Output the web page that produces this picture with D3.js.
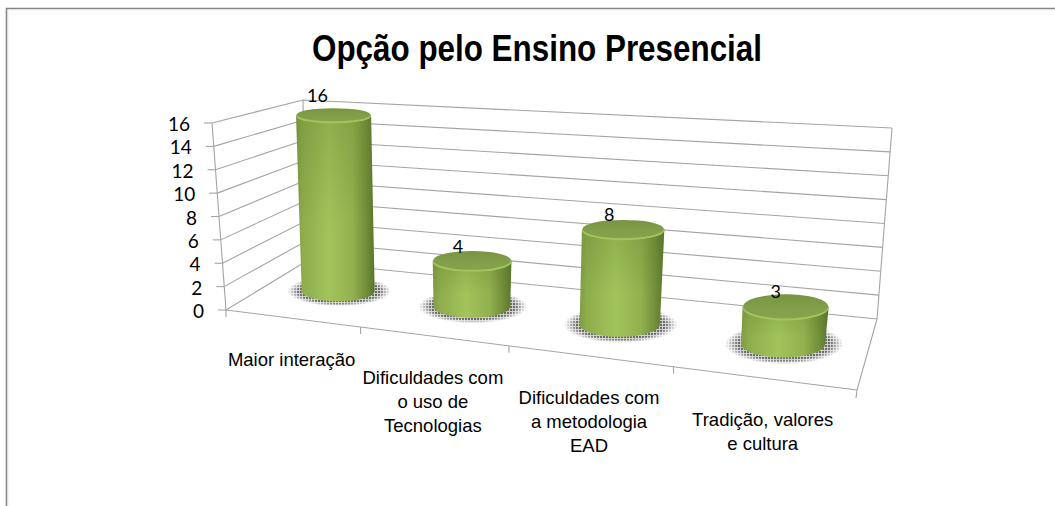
<!DOCTYPE html>
<html>
<head>
<meta charset="utf-8">
<script src="https://cdn.jsdelivr.net/npm/d3@7"></script>
<style>
  html, body { margin: 0; padding: 0; background: #fff; }
  text { font-family: "Liberation Sans", Arial, sans-serif; fill: #000; }
  .num { font-family: Lato, "Liberation Sans", sans-serif; }
</style>
</head>
<body>
<svg width="1055" height="506"></svg>
<script>
// Chart data
var chartTitle = "Opção pelo Ensino Presencial";
var categoryLines = [
  ["Maior interação"],
  ["Dificuldades com", "o uso de", "Tecnologias"],
  ["Dificuldades com", "a metodologia", "EAD"],
  ["Tradição, valores", "e cultura"]
];
var values = [16, 4, 8, 3];
var valueTicks = [0, 2, 4, 6, 8, 10, 12, 14, 16];

var svg = d3.select("svg"),
  width = +svg.attr("width"),
  height = +svg.attr("height");

// Box corners on screen, front/back + bottom/top + left/right
var box = {
  fbl: [226, 310], fbr: [857, 390], bbl: [305, 262], bbr: [877, 319],
  ftl: [212, 123], ftr: [877, 170], btl: [303, 100], btr: [892, 128]
};
var perspective = 1.23; // foreshortening along the category axis
var depthPos = 0.57; // where the cylinders stand between front and back wall
var depthRad = 0.2;
var standOffset = [[5, 1.5], [5, 2], [5, 3.5], [4, 4.5]]; // cylinders sit a little off the projected centre
var labelNudge = [[-2, -7], [0, 1], [0, 0], [4, 3]];

var uScale = d3.scaleLinear().domain([0, categoryLines.length]).range([0, 1]);
var vScale = d3.scaleLinear().domain([0, 16]).range([0, 1]);
var rxScale = d3.scaleLinear().domain([0, categoryLines.length - 1]).range([37.5, 43]);

function lerp(a, b, t) { return a + (b - a) * t; }

// u = along categories, v = height, w = depth, all 0..1
function project(u, v, w) {
  var t = u / (u + (1 - u) * perspective);
  return [0, 1].map(function (i) {
    var bottom = lerp(lerp(box.fbl[i], box.fbr[i], t), lerp(box.bbl[i], box.bbr[i], t), w);
    var top = lerp(lerp(box.ftl[i], box.ftr[i], t), lerp(box.btl[i], box.btr[i], t), w);
    return lerp(bottom, top, v);
  });
}

var line = d3.line();

// Defs: gradients, halftone shadow
var defs = svg.append("defs");

function addGradient(id, stops, vertical) {
  var grad = defs.append("linearGradient").attr("id", id);
  if (vertical) grad.attr("x2", 0).attr("y2", 1);
  stops.forEach(function (s) {
    grad.append("stop").attr("offset", s[0]).attr("stop-color", s[1]).attr("stop-opacity", s[2] === undefined ? 1 : s[2]);
  });
}
addGradient("body", [[0, "#7f9c43"], [0.08, "#8dac4c"], [0.42, "#a2c45b"], [0.72, "#92b14f"], [0.9, "#708c38"], [1, "#59752c"]]);
addGradient("cap", [[0, "#779440"], [0.5, "#809e48"], [1, "#86a44d"]], true);
addGradient("rim", [[0, "#5a7a28", 0.28], [0.6, "#5a7a28", 0]], true);

var dots = defs.append("pattern").attr("id", "dots")
  .attr("width", 3).attr("height", 3).attr("patternUnits", "userSpaceOnUse");
dots.append("rect").attr("width", 3).attr("height", 3).attr("fill", "#cfcfcf");
dots.append("rect").attr("width", 2).attr("height", 2).attr("fill", "#6a6a6a");

var fade = defs.append("radialGradient").attr("id", "fade");
[[0, "#fff"], [0.78, "#fff"], [1, "#000"]].forEach(function (s) {
  fade.append("stop").attr("offset", s[0]).attr("stop-color", s[1]);
});
defs.append("mask").attr("id", "shadowMask")
  .attr("maskContentUnits", "objectBoundingBox")
  .append("rect").attr("width", 1).attr("height", 1).attr("fill", "url(#fade)");

defs.append("filter").attr("id", "soft")
  .attr("x", "-5%").attr("y", "-5%").attr("width", "110%").attr("height", "110%")
  .append("feGaussianBlur").attr("stdDeviation", 0.6);

// Frame, only top and left edge are in the picture
svg.append("path")
  .attr("d", line([[6.5, height], [6.5, 8.5], [width, 8.5]]))
  .attr("fill", "none").attr("stroke", "#858585").attr("stroke-width", 1.6);
svg.append("path")
  .attr("d", line([[8, height], [8, 9.8], [width, 9.8]]))
  .attr("fill", "none").attr("stroke", "#e2e2e2").attr("stroke-width", 0.8);

// Title
svg.append("text")
  .attr("x", 312).attr("y", 61)
  .attr("font-size", 36).attr("font-weight", "bold")
  .attr("textLength", 450).attr("lengthAdjust", "spacingAndGlyphs")
  .text(chartTitle);

// Walls and floor
var grid = svg.append("g").attr("fill", "none").attr("stroke", "#a4a4a4").attr("stroke-width", 1.1);

valueTicks.forEach(function (d) {
  var v = vScale(d);
  grid.append("path").attr("d", line([project(0, v, 0), project(0, v, 1), project(1, v, 1)]));
  var p = project(0, v, 0);
  grid.append("path").attr("d", line([p, [p[0] - 8, p[1]]]));
});
var fl = project(0, 0, 0), fr = project(1, 0, 0);
grid.append("path").attr("d", line([project(0, 1, 0), fl, [fl[0], fl[1] + 7]]));
grid.append("path").attr("d", line([project(1, 0, 1), fr, [fr[0] - 1, fr[1] + 8]]));
grid.append("path").attr("d", line([fl, fr]));
grid.append("path").attr("d", line([project(1, 0, 1), project(1, 1, 1)]));
grid.append("path").attr("d", line([project(0, 0, 1), project(0, 1, 1)]));
d3.range(1, categoryLines.length).forEach(function (i) {
  var p = project(uScale(i), 0, 0);
  grid.append("path").attr("d", line([p, [p[0], p[1] + 7]]));
});

// Y tick labels
svg.append("g").selectAll("text")
  .data(valueTicks).enter().append("text")
  .attr("class", "num")
  .attr("x", function (d) { return project(0, vScale(d), 0)[0] - 22; })
  .attr("y", function (d) { return project(0, vScale(d), 0)[1] + 8; })
  .attr("text-anchor", "end")
  .attr("font-size", 19)
  .text(function (d) { return d; });

// Cylinders
function geom(d, i) {
  var u = uScale(i + 0.5), v = vScale(d);
  var base = project(u, 0, depthPos), top = project(u, v, depthPos);
  var ryBase = (project(u, 0, depthPos - depthRad)[1] - project(u, 0, depthPos + depthRad)[1]) / 2;
  var ryTop = (project(u, v, depthPos - depthRad)[1] - project(u, v, depthPos + depthRad)[1]) / 2;
  return {
    bx: base[0] + standOffset[i][0], by: base[1] + standOffset[i][1],
    tx: top[0] + standOffset[i][0], ty: top[1] + standOffset[i][1],
    rx: rxScale(i), ryBase: ryBase, ryTop: Math.max(ryTop, 7)
  };
}

function bodyPath(d, i) {
  var g = geom(d, i);
  return "M" + (g.tx - g.rx) + "," + g.ty +
    "L" + (g.bx - g.rx + 1) + "," + g.by +
    "A" + (g.rx - 1) + "," + g.ryBase + " 0 0 0 " + (g.bx + g.rx - 1) + "," + g.by +
    "L" + (g.tx + g.rx) + "," + g.ty + "Z";
}

var cyl = svg.append("g").selectAll("g")
  .data(values).enter().append("g");

cyl.append("ellipse")
  .attr("cx", function (d, i) { return geom(d, i).bx + 1; })
  .attr("cy", function (d, i) { return geom(d, i).by; })
  .attr("rx", function (d, i) { return geom(d, i).rx * 1.38; })
  .attr("ry", function (d, i) { return geom(d, i).ryBase * 1.5; })
  .attr("fill", "url(#dots)")
  .attr("mask", "url(#shadowMask)");

var solid = cyl.append("g").attr("filter", "url(#soft)");
solid.append("path").attr("fill", "url(#body)").attr("d", bodyPath);
solid.append("path").attr("fill", "url(#rim)").attr("d", bodyPath);

// top: light rim first, then the darker cap over it
solid.append("ellipse")
  .attr("cx", function (d, i) { return geom(d, i).tx; })
  .attr("cy", function (d, i) { return geom(d, i).ty + 1.2; })
  .attr("rx", function (d, i) { return geom(d, i).rx; })
  .attr("ry", function (d, i) { return geom(d, i).ryTop; })
  .attr("fill", "#a3c55e");
solid.append("ellipse")
  .attr("cx", function (d, i) { return geom(d, i).tx; })
  .attr("cy", function (d, i) { return geom(d, i).ty - 0.4; })
  .attr("rx", function (d, i) { return geom(d, i).rx - 0.5; })
  .attr("ry", function (d, i) { return geom(d, i).ryTop - 0.4; })
  .attr("fill", "url(#cap)");

// Value labels sit a bit left of the cap
cyl.append("text")
  .attr("class", "num")
  .attr("x", function (d, i) { return geom(d, i).tx - 14 + labelNudge[i][0]; })
  .attr("y", function (d, i) { return geom(d, i).ty - geom(d, i).ryTop + 1 + labelNudge[i][1]; })
  .attr("text-anchor", "middle")
  .attr("font-size", 18)
  .text(function (d) { return d; });

// Category labels, hanging under the front edge
svg.append("g").selectAll("text")
  .data(categoryLines).enter().append("text")
  .attr("text-anchor", "middle")
  .attr("font-size", 18.5)
  .each(function (lines, i) {
    var p = project(uScale(i + 0.5), 0, 0);
    d3.select(this).selectAll("tspan").data(lines).enter().append("tspan")
      .attr("x", p[0])
      .attr("y", function (d, j) { return p[1] + 48 + j * 24; })
      .text(function (d) { return d; });
  });
</script>
</body>
</html>
